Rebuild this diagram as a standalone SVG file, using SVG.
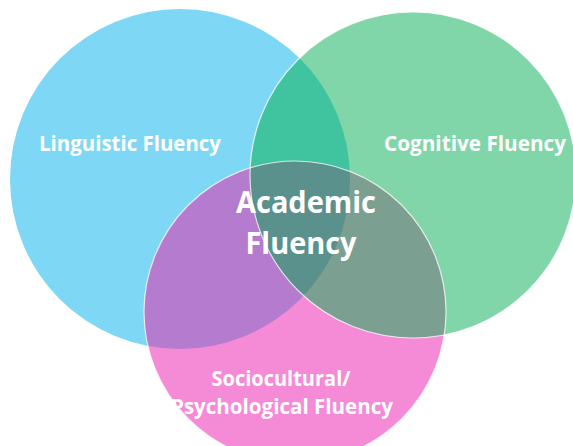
<svg xmlns="http://www.w3.org/2000/svg" width="573" height="446" viewBox="0 0 573 446">
<style>
.lbl{fill:#ffffff;font-family:"Open Sans","Liberation Sans",sans-serif;font-weight:700;text-anchor:middle}
.edge{fill:none;stroke:#ffffff;stroke-opacity:0.75;stroke-width:1.2}
</style>
<defs>
<circle id="cB" cx="180" cy="179" r="170"/>
<circle id="cG" cx="413" cy="175" r="163"/>
<circle id="cP" cx="295" cy="312" r="151"/>
<clipPath id="clipB"><use href="#cB"/></clipPath>
<clipPath id="clipG"><use href="#cG"/></clipPath>
<clipPath id="clipP"><use href="#cP"/></clipPath>
</defs>
<rect width="573" height="446" fill="#ffffff"/>
<g id="linguistic">
<use href="#cB" fill="#7fd7f6"/>
</g>
<g id="cognitive">
<use href="#cG" fill="#80d6a8"/>
</g>
<g id="sociocultural">
<use href="#cP" fill="#f58bd6"/>
</g>
<g id="overlaps">
<g clip-path="url(#clipB)"><use href="#cG" fill="#40c4a0"/></g>
<g clip-path="url(#clipB)"><use href="#cP" fill="#b47bcf"/></g>
<g clip-path="url(#clipG)"><use href="#cP" fill="#7b9f91"/></g>
<g clip-path="url(#clipB)"><g clip-path="url(#clipG)"><use href="#cP" fill="#5a918c"/></g></g>
</g>
<g id="edges">
<use href="#cG" class="edge"/>
<use href="#cP" class="edge"/>
</g>
<g id="labels">
<text class="lbl" x="130" y="151" font-size="21" textLength="182" lengthAdjust="spacingAndGlyphs">Linguistic Fluency</text>
<text class="lbl" x="475" y="151" font-size="21" textLength="182" lengthAdjust="spacingAndGlyphs">Cognitive Fluency</text>
<text class="lbl" x="306" y="213" font-size="30" textLength="140" lengthAdjust="spacingAndGlyphs">Academic</text>
<text class="lbl" x="301" y="254" font-size="30" textLength="111" lengthAdjust="spacingAndGlyphs">Fluency</text>
<text class="lbl" x="281" y="386" font-size="21" textLength="139" lengthAdjust="spacingAndGlyphs">Sociocultural/</text>
<text class="lbl" x="282" y="414" font-size="21" textLength="222" lengthAdjust="spacingAndGlyphs">Psychological Fluency</text>
</g>
</svg>
